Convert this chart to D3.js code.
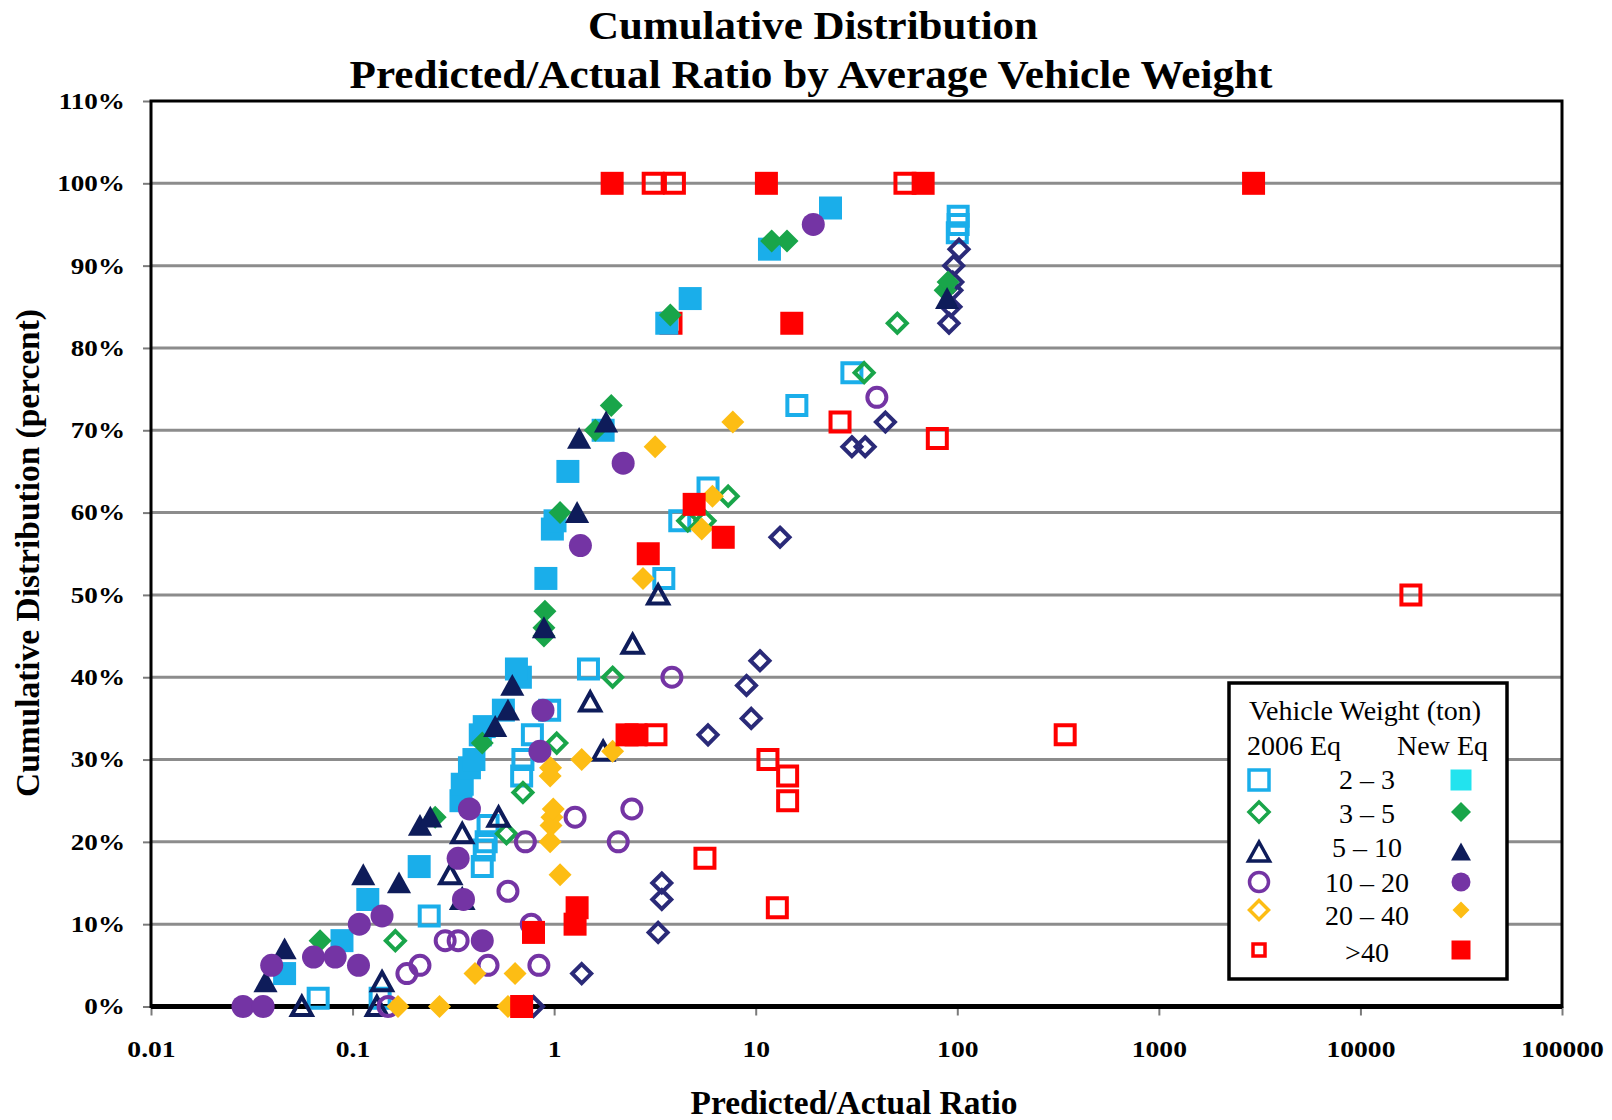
<!DOCTYPE html>
<html>
<head>
<meta charset="utf-8">
<script src="https://cdn.jsdelivr.net/npm/d3@7"></script>
<style>
  body { margin: 0; background: #fff; }
  text { font-family: "Liberation Serif", "Times New Roman", serif; }
</style>
</head>
<body>
<svg id="chart" width="1612" height="1120"></svg>
<script>
// Each point: [predicted/actual ratio, cumulative distribution %]
const sq23Old = [[0.0675,1],[0.137,1],[0.24,11],[0.44,17],[0.45,19],[0.46,20],[0.47,22],[0.69,28],[0.70,30],[0.78,33],[0.95,36],[1.48,41],[3.5,52],[4.2,59],[5.8,63],[16,73],[30,77],[100,94],[101,95],[101,96]];
const sq23New = [[0.046,4],[0.0886,8],[0.119,13],[0.214,17],[0.345,25],[0.35,27],[0.38,29],[0.40,30],[0.43,33],[0.45,34],[0.56,36],[0.68,40],[0.65,41],[0.91,52],[0.98,58],[1.01,59],[1.17,65],[1.75,70],[3.62,83],[4.73,86],[11.7,92],[23.5,97]];
const dia35Old = [[0.163,8],[0.58,21],[0.70,26],[1.03,32],[1.95,40],[4.6,59],[5.6,59],[7.3,62],[34.5,77],[50.4,83]];
const dia35New = [[0.069,8],[0.257,23],[0.44,32],[0.89,45],[0.89,46],[0.9,48],[1.07,60],[1.6,70],[1.92,73],[3.77,84],[12.0,93],[14.3,93],[87,87],[90,88]];
const tri510Old = [[0.056,0],[0.132,0],[0.14,3],[0.305,16],[0.35,13],[0.35,21],[0.53,23],[1.75,31],[1.51,37],[2.45,44],[3.28,50]];
const tri510New = [[0.037,3],[0.046,7],[0.113,16],[0.17,15],[0.216,22],[0.243,23],[0.51,34],[0.59,36],[0.62,39],[0.89,46],[1.3,60],[1.33,69],[1.81,71],[89,86]];
const cir1020Old = [[0.15,0],[0.186,4],[0.216,5],[0.288,8],[0.334,8],[0.47,5],[0.59,14],[0.72,20],[0.77,10],[0.84,5],[1.27,23],[2.08,20],[2.43,24],[3.84,40],[39.9,74]];
const cir1020New = [[0.0286,0],[0.036,0],[0.0397,5],[0.064,6],[0.082,6],[0.107,5],[0.108,10],[0.14,11],[0.334,18],[0.355,13],[0.38,24],[0.44,8],[0.85,31],[0.88,36],[1.35,56],[2.2,66],[19.3,95]];
const dia2040Old = [[0.79,0],[1.37,4],[3.28,9],[3.42,13],[3.42,15],[5.8,33],[9.5,35],[9.0,39],[10.5,42],[13.2,57],[30,68],[34.9,68],[44,71],[91,83],[93,85],[94,87],[95,88],[96,90],[102,92]];
const dia2040New = [[0.168,0],[0.27,0],[0.59,0],[0.405,4],[0.64,4],[1.07,16],[0.955,20],[0.965,22],[0.975,23],[0.99,24],[0.955,28],[0.96,29],[1.37,30],[1.95,31],[2.76,52],[5.4,58],[6.1,62],[3.17,68],[7.7,71]];
const sq40Old = [[3.1,100],[3.95,100],[55,100],[3.8,83],[26.2,71],[79.6,69],[3.2,33],[343,33],[11.5,30],[14.4,28],[14.4,25],[5.6,18],[12.8,12],[17800,50]];
const sq40New = [[1.94,100],[11.3,100],[67.7,100],[2950,100],[15.1,83],[4.95,61],[6.9,57],[2.93,55],[2.3,33],[2.55,33],[1.3,12],[1.27,10],[0.79,9],[0.69,0]];

const weightClasses = ["2 \u2013 3", "3 \u2013 5", "5 \u2013 10", "10 \u2013 20", "20 \u2013 40", ">40"];
const yTicks = [0, 10, 20, 30, 40, 50, 60, 70, 80, 90, 100, 110];
const xTicks = [0.01, 0.1, 1, 10, 100, 1000, 10000, 100000];
const xTickLabels = ["0.01", "0.1", "1", "10", "100", "1000", "10000", "100000"];

const C = {
  blue: "#1AAEEA", cyan: "#22E3EE", green: "#19A54A", navy: "#0E1C5A",
  purple: "#7434A4", indigo: "#2A2A78", gold: "#FDBD14", red: "#FF0000"
};

// drawing order of the plotted series
const series = [
  { data: sq23Old,    shape: "square",   open: true,  color: C.blue },
  { data: dia35Old,   shape: "diamond",  open: true,  color: C.green },
  { data: tri510Old,  shape: "triangle", open: true,  color: C.navy },
  { data: cir1020Old, shape: "circle",   open: true,  color: C.purple },
  { data: dia2040Old, shape: "diamond",  open: true,  color: C.indigo },
  { data: sq40Old,    shape: "square",   open: true,  color: C.red },
  { data: sq23New,    shape: "square",   open: false, color: C.blue },
  { data: dia35New,   shape: "diamond",  open: false, color: C.green },
  { data: tri510New,  shape: "triangle", open: false, color: C.navy },
  { data: cir1020New, shape: "circle",   open: false, color: C.purple },
  { data: dia2040New, shape: "diamond",  open: false, color: C.gold },
  { data: sq40New,    shape: "square",   open: false, color: C.red }
];

function shapePath(shape, s) {
  const h = s / 2;
  switch (shape) {
    case "square":   return `M${-h},${-h}H${h}V${h}H${-h}Z`;
    case "diamond":  return `M0,${-h}L${h},0L0,${h}L${-h},0Z`;
    case "triangle": return `M0,${-h * 1.0}L${h * 1.05},${h * 0.9}L${-h * 1.05},${h * 0.9}Z`;
    default:         return `M${h},0A${h},${h} 0 1,1 ${-h},0A${h},${h} 0 1,1 ${h},0Z`;
  }
}

function stretch(sel, factor) {
  sel.each(function () {
    const w = this.getComputedTextLength();
    d3.select(this).attr("textLength", w * factor).attr("lengthAdjust", "spacingAndGlyphs");
  });
}

const svg = d3.select("#chart");
const L = 151, R = 1562, T = 101, B = 1006.5;
const x = d3.scaleLog().domain([0.01, 100000]).range([L, R]);
const y = d3.scaleLinear().domain([0, 110]).range([B, T]);

svg.append("rect").attr("width", 1612).attr("height", 1120).attr("fill", "#fff");

// horizontal gridlines
svg.append("g").selectAll("line").data(yTicks.filter(v => v > 0 && v < 110)).join("line")
  .attr("x1", L).attr("x2", R).attr("y1", d => y(d)).attr("y2", d => y(d))
  .attr("stroke", "#8c8c8c").attr("stroke-width", 3);

// y axis
const yAxis = svg.append("g").attr("transform", `translate(${L},0)`)
  .call(d3.axisLeft(y).tickValues(yTicks).tickSize(8).tickPadding(18).tickFormat(d => d + "%"));
yAxis.select(".domain").remove();
yAxis.selectAll(".tick line").attr("stroke", "#7a7a7a").attr("stroke-width", 2);
yAxis.selectAll(".tick text").attr("font-size", 23).attr("font-weight", "bold")
  .attr("fill", "#000").attr("font-family", "Liberation Serif, serif");
stretch(yAxis.selectAll(".tick text"), 1.18);

// x axis
const xAxis = svg.append("g").attr("transform", `translate(0,${B})`)
  .call(d3.axisBottom(x).tickValues(xTicks).tickSize(9).tickPadding(24)
    .tickFormat((d, i) => xTickLabels[i]));
xAxis.select(".domain").remove();
xAxis.selectAll(".tick line").attr("stroke", "#7a7a7a").attr("stroke-width", 2);
xAxis.selectAll(".tick text").attr("font-size", 24).attr("font-weight", "bold")
  .attr("fill", "#000").attr("font-family", "Liberation Serif, serif");
stretch(xAxis.selectAll(".tick text"), 1.15);

// plot frame
svg.append("rect").attr("x", L).attr("y", T).attr("width", R - L).attr("height", B - T)
  .attr("fill", "none").attr("stroke", "#000").attr("stroke-width", 3);
svg.append("line").attr("x1", L).attr("x2", R).attr("y1", B).attr("y2", B)
  .attr("stroke", "#000").attr("stroke-width", 5);

// markers
const plot = svg.append("g");
series.forEach(s => {
  plot.append("g").selectAll("path").data(s.data).join("path")
    .attr("transform", d => `translate(${x(d[0])},${y(d[1])})`)
    .attr("d", shapePath(s.shape, s.open ? 19 : 23))
    .attr("fill", s.open ? "none" : s.color)
    .attr("stroke", s.open ? s.color : "none")
    .attr("stroke-width", s.open ? 4 : 0);
});

// titles
const title = svg.append("g").attr("font-weight", "bold").attr("text-anchor", "middle");
title.append("text").attr("x", 813).attr("y", 39).attr("font-size", 40)
  .attr("textLength", 450).attr("lengthAdjust", "spacingAndGlyphs").text("Cumulative Distribution");
title.append("text").attr("x", 811).attr("y", 88).attr("font-size", 40)
  .attr("textLength", 923).attr("lengthAdjust", "spacingAndGlyphs")
  .text("Predicted/Actual Ratio by Average Vehicle Weight");

svg.append("text").attr("x", 854).attr("y", 1114).attr("text-anchor", "middle")
  .attr("font-weight", "bold").attr("font-size", 33)
  .attr("textLength", 327).attr("lengthAdjust", "spacingAndGlyphs").text("Predicted/Actual Ratio");

svg.append("text").attr("transform", "translate(39,553) rotate(-90)").attr("text-anchor", "middle")
  .attr("font-weight", "bold").attr("font-size", 34)
  .attr("textLength", 488).attr("lengthAdjust", "spacingAndGlyphs")
  .text("Cumulative Distribution (percent)");

// legend
const lg = svg.append("g");
lg.append("rect").attr("x", 1229).attr("y", 683).attr("width", 278).attr("height", 296)
  .attr("fill", "#fff").attr("stroke", "#000").attr("stroke-width", 3.5);
lg.append("text").attr("x", 1249).attr("y", 720).attr("font-size", 28).text("Vehicle Weight (ton)");
lg.append("text").attr("x", 1247).attr("y", 755).attr("font-size", 28).text("2006 Eq");
lg.append("text").attr("x", 1488).attr("y", 755).attr("font-size", 28).attr("text-anchor", "end").text("New Eq");

const legendRows = [
  { label: weightClasses[0], shape: "square",   open: C.blue,   fill: C.cyan,   cy: 780, by: 789, so: 20, sf: 21 },
  { label: weightClasses[1], shape: "diamond",  open: C.green,  fill: C.green,  cy: 812, by: 823, so: 20, sf: 20 },
  { label: weightClasses[2], shape: "triangle", open: C.navy,   fill: C.navy,   cy: 852, by: 857, so: 20, sf: 19 },
  { label: weightClasses[3], shape: "circle",   open: C.purple, fill: C.purple, cy: 882, by: 892, so: 19, sf: 19 },
  { label: weightClasses[4], shape: "diamond",  open: C.gold,   fill: C.gold,   cy: 910, by: 925, so: 19, sf: 17 },
  { label: weightClasses[5], shape: "square",   open: C.red,    fill: C.red,    cy: 950, by: 962, so: 12, sf: 19 }
];
legendRows.forEach(r => {
  lg.append("path").attr("transform", `translate(1259,${r.cy})`).attr("d", shapePath(r.shape, r.so))
    .attr("fill", "none").attr("stroke", r.open).attr("stroke-width", 3.5);
  lg.append("path").attr("transform", `translate(1461,${r.cy})`).attr("d", shapePath(r.shape, r.sf))
    .attr("fill", r.fill);
  lg.append("text").attr("x", 1367).attr("y", r.by).attr("font-size", 28)
    .attr("text-anchor", "middle").text(r.label);
});
</script>
</body>
</html>
